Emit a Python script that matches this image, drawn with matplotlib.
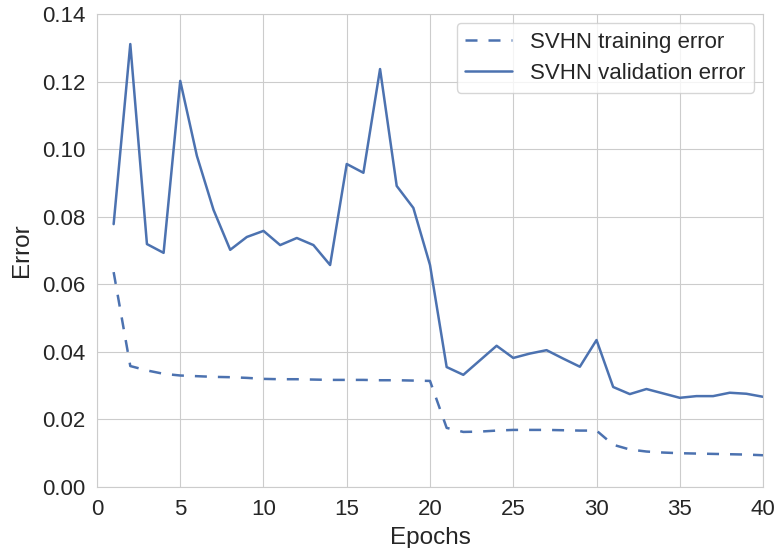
import matplotlib
matplotlib.use("Agg")
import matplotlib.pyplot as plt
import seaborn as sns
import numpy as np

epochs = np.arange(1, 41)

train_err = [0.0636, 0.0358, 0.0345, 0.0335, 0.0330, 0.0328, 0.0326, 0.0325, 0.0323, 0.0320,
             0.0319, 0.0319, 0.0318, 0.0317, 0.0317, 0.0317, 0.0316, 0.0316, 0.0315, 0.0314,
             0.0175, 0.0163, 0.0164, 0.0167, 0.0169, 0.0169, 0.0169, 0.0168, 0.0167, 0.0167,
             0.0125, 0.0111, 0.0105, 0.0102, 0.0100, 0.0099, 0.0098, 0.0097, 0.0096, 0.0094]

valid_err = [0.0778, 0.1311, 0.0719, 0.0693, 0.1202, 0.0980, 0.0820, 0.0702, 0.0740, 0.0758,
             0.0716, 0.0737, 0.0716, 0.0657, 0.0956, 0.0930, 0.1237, 0.0891, 0.0826, 0.0657,
             0.0355, 0.0332, 0.0375, 0.0418, 0.0382, 0.0395, 0.0405, 0.0380, 0.0356, 0.0435,
             0.0296, 0.0275, 0.0290, 0.0277, 0.0264, 0.0269, 0.0269, 0.0279, 0.0276, 0.0267]

sns.set_style("whitegrid")
plt.rcParams['font.family'] = ['Liberation Sans', 'DejaVu Sans']

fig = plt.figure(figsize=(7.79, 5.48), dpi=100)
ax = fig.add_axes([0.1245, 0.1113, 0.855, 0.8632])

color = sns.color_palette("deep")[0]
ax.plot(epochs, train_err, color=color, lw=1.8, linestyle=(0, (4.8, 4.4)),
        label="SVHN training error")
ax.plot(epochs, valid_err, "-", color=color, lw=1.8, label="SVHN validation error")

ax.set_xlim(0, 40)
ax.set_ylim(0, 0.14)
ax.set_yticks(np.arange(0, 0.141, 0.02))
ax.set_yticklabels(["%.2f" % v for v in np.arange(0, 0.141, 0.02)])
ax.tick_params(labelsize=16, colors="#262626", pad=5)
ax.set_xlabel("Epochs", fontsize=17.5, color="#262626", labelpad=5)
ax.set_ylabel("Error", fontsize=17.5, color="#262626", labelpad=6)
leg = ax.legend(loc="upper right", fontsize=16, frameon=True, handlelength=2.1,
                borderaxespad=0.4, labelspacing=0.45, handletextpad=0.8)
leg.get_frame().set_edgecolor("#cccccc")

fig.savefig("out.png", dpi=100)
